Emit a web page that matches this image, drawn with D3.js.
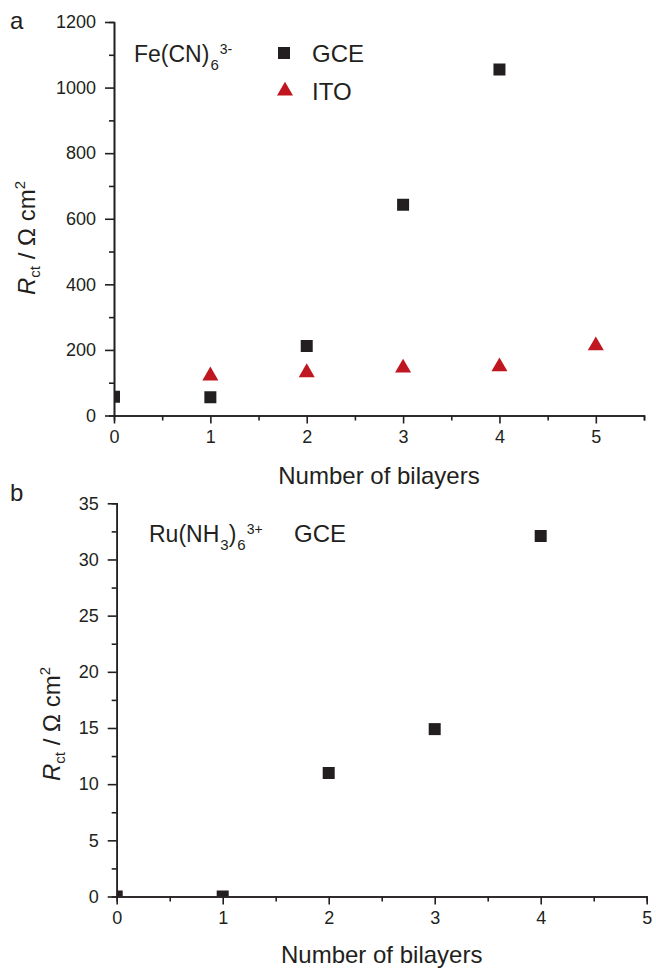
<!DOCTYPE html>
<html>
<head>
<meta charset="utf-8">
<script src="https://d3js.org/d3.v7.min.js"></script>
<style>
  body { margin: 0; background: #fff; }
  text { font-family: "Liberation Sans", Arial, sans-serif; fill: #231f20; }
</style>
</head>
<body>
<svg id="chart" width="656" height="969"></svg>
<script>
// panel a: Fe(CN)6 3-
const bilayersGCE_a = [0, 1, 2, 3, 4];
const rctGCE_a = [57, 56, 212, 643, 1055];
const bilayersITO_a = [1, 2, 3, 4, 5];
const rctITO_a = [121, 131, 145, 149, 213];
const yTicksA = [0, 200, 400, 600, 800, 1000, 1200];
const yMinorA = [100, 300, 500, 700, 900, 1100];

// panel b: Ru(NH3)6 3+
const bilayersGCE_b = [0, 1, 2, 3, 4];
const rctGCE_b = [0, 0, 11.0, 14.9, 32.1];
const yTicksB = [0, 5, 10, 15, 20, 25, 30, 35];
const yMinorB = [2.5, 7.5, 12.5, 17.5, 22.5, 27.5, 32.5];

const xTicks = [0, 1, 2, 3, 4, 5];

const ink = "#231f20";
const red = "#c0161f";
const svg = d3.select("#chart");

const sq = d3.symbol().type(d3.symbolSquare).size(144);
const tri = d3.symbol().type(d3.symbolTriangle).size(111);
const fmt = d3.format("d");

function drawPanel(opt) {
    const x = d3.scaleLinear().domain(opt.xDomain).range([opt.left, opt.right]);
    const y = d3.scaleLinear().domain(opt.yDomain).range([opt.bottom, opt.top]);
    const g = svg.append("g");

    // clip markers to plot area
    svg.append("clipPath").attr("id", opt.id)
        .append("rect")
        .attr("x", opt.left).attr("y", opt.top)
        .attr("width", opt.right - opt.left).attr("height", opt.bottom - opt.top);
    const plot = g.append("g").attr("clip-path", `url(#${opt.id})`);

    opt.series.forEach(function (s) {
        plot.selectAll(null)
            .data(d3.zip(s.xs, s.ys))
            .enter()
            .append("path")
            .attr("d", s.sym)
            .attr("transform", d => `translate(${x(d[0])},${y(d[1])})`)
            .attr("fill", s.color);
    });

    // x axis
    const xMinor = d3.range(0.5, opt.xDomain[1] + 0.01, 1);
    g.append("g").attr("transform", `translate(0,${opt.bottom})`)
        .call(d3.axisBottom(x).tickValues(xMinor).tickSize(5).tickFormat(""));
    g.append("g").attr("transform", `translate(0,${opt.bottom})`)
        .call(d3.axisBottom(x).tickValues(xTicks.filter(t => t <= opt.xDomain[1]))
            .tickFormat(fmt).tickSize(8).tickPadding(7).tickSizeOuter(0))
        .call(a => a.selectAll("text").attr("font-size", 18));

    // y axis
    g.append("g").attr("transform", `translate(${opt.left},0)`)
        .call(d3.axisLeft(y).tickValues(opt.yMinor).tickSize(5).tickFormat(""));
    g.append("g").attr("transform", `translate(${opt.left},0)`)
        .call(d3.axisLeft(y).tickValues(opt.yTicks).tickFormat(fmt)
            .tickSize(9).tickPadding(9).tickSizeOuter(0))
        .call(a => a.selectAll("text").attr("font-size", 18));

    g.selectAll(".domain, .tick line")
        .attr("stroke", ink).attr("stroke-width", 1.6);
    g.selectAll(".tick text").attr("fill", ink).attr("font-family", null);

    // x title
    g.append("text")
        .attr("x", (opt.left + opt.right) / 2)
        .attr("y", opt.xTitleY)
        .attr("text-anchor", "middle")
        .attr("font-size", 24)
        .text("Number of bilayers");

    // y title
    const yt = g.append("text")
        .attr("transform", `translate(${opt.yTitleX},${opt.yTitleY}) rotate(-90)`)
        .attr("text-anchor", "middle")
        .attr("font-size", 24);
    yt.append("tspan").attr("font-style", "italic").text("R");
    yt.append("tspan").attr("font-size", 15).attr("dy", 5).text("ct");
    yt.append("tspan").attr("dy", -5).text(" / \u03A9 cm");
    yt.append("tspan").attr("font-size", 15).attr("dy", -10).text("2");

    // panel letter
    g.append("text").attr("x", 10).attr("y", opt.letterY)
        .attr("font-size", 24).text(opt.letter);
    return g;
}

const ga = drawPanel({
    id: "clipA", letter: "a", letterY: 29,
    left: 114, right: 644, top: 22, bottom: 415.5,
    xDomain: [0, 5.5], yDomain: [0, 1200],
    yTicks: yTicksA, yMinor: yMinorA,
    xTitleY: 484, yTitleX: 35, yTitleY: 238,
    series: [
        { xs: bilayersGCE_a, ys: rctGCE_a, sym: sq, color: ink },
        { xs: bilayersITO_a, ys: rctITO_a, sym: tri, color: red }
    ]
});

// legend a
const la = ga.append("text").attr("x", 134).attr("y", 62).attr("font-size", 23);
la.append("tspan").text("Fe(CN)");
la.append("tspan").attr("font-size", 15).attr("dy", 8).attr("dx", 1).text("6");
la.append("tspan").attr("font-size", 14).attr("dy", -16).attr("dx", 1).text("3-");
ga.append("path").attr("d", sq).attr("transform", "translate(284,53)").attr("fill", ink);
ga.append("text").attr("x", 312).attr("y", 62).attr("font-size", 24).text("GCE");
ga.append("path").attr("d", tri).attr("transform", "translate(285,91)").attr("fill", red);
ga.append("text").attr("x", 312).attr("y", 100).attr("font-size", 24).text("ITO");

const gb = drawPanel({
    id: "clipB", letter: "b", letterY: 501,
    left: 116.7, right: 646.7, top: 503.3, bottom: 896.5,
    xDomain: [0, 5], yDomain: [0, 35],
    yTicks: yTicksB, yMinor: yMinorB,
    xTitleY: 963, yTitleX: 60, yTitleY: 724,
    series: [
        { xs: bilayersGCE_b, ys: rctGCE_b, sym: sq, color: ink }
    ]
});

// legend b
const lb = gb.append("text").attr("x", 149).attr("y", 542).attr("font-size", 23);
lb.append("tspan").text("Ru(NH");
lb.append("tspan").attr("font-size", 15).attr("dy", 8).attr("dx", 1).text("3");
lb.append("tspan").attr("dy", -8).text(")");
lb.append("tspan").attr("font-size", 15).attr("dy", 8).attr("dx", 1).text("6");
lb.append("tspan").attr("font-size", 14).attr("dy", -16).attr("dx", 1).text("3+");
gb.append("text").attr("x", 294).attr("y", 542).attr("font-size", 24).text("GCE");
</script>
</body>
</html>
